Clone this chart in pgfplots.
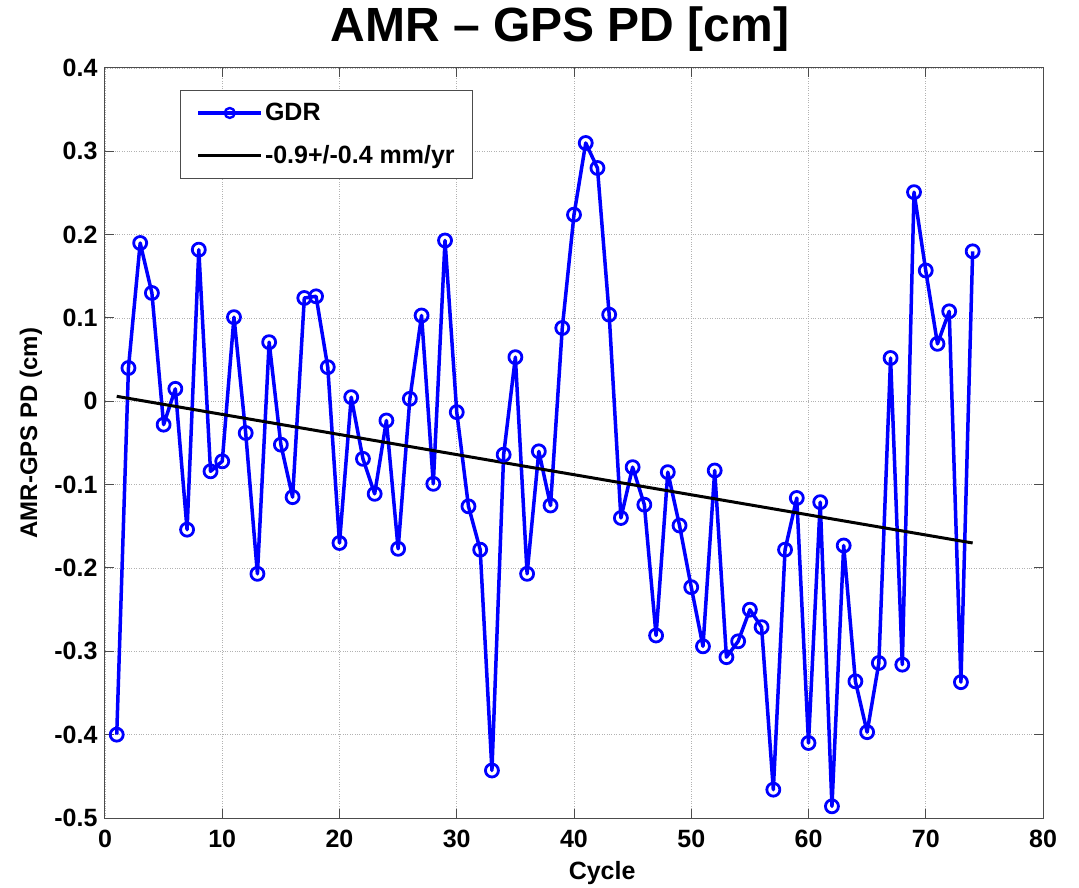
\documentclass[border=0pt]{standalone}
\usepackage{fontspec}
\setmainfont{Liberation Sans}
\usepackage{pgfplots}
\pgfplotsset{compat=1.18}
\begin{document}
\begin{tikzpicture}
\begin{axis}[
  scale only axis,
  width=938pt, height=750pt,
  xmin=0, xmax=80, ymin=-0.5, ymax=0.4,
  xtick={0,10,...,80},
  xticklabels={0,10,20,30,40,50,60,70,80},
  ytick={-0.5,-0.4,-0.3,-0.2,-0.1,0,0.1,0.2,0.3,0.4},
  yticklabels={-0.5,-0.4,-0.3,-0.2,-0.1,0,0.1,0.2,0.3,0.4},
  tick align=inside,
  major tick length=9pt,
  tick style={black!70, line width=1pt},
  axis line style={black!70, line width=1pt},
  grid=major,
  major grid style={black!30, dotted, line width=0.8pt},
  ticklabel style={font=\fontsize{25}{28}\selectfont\bfseries},
  xticklabel style={yshift=-9pt},
  yticklabel style={xshift=-4pt},
  xlabel={Cycle},
  ylabel={AMR-GPS PD (cm)},
  xlabel style={font=\fontsize{25}{28}\selectfont\bfseries, at={(axis description cs:0.53,-0.073)}, anchor=center},
  ylabel style={font=\fontsize{24}{28}\selectfont\bfseries, at={(axis description cs:-0.079,0.513)}, anchor=center},
  title={AMR – GPS PD [cm]},
  title style={font=\fontsize{48}{54}\selectfont\bfseries, at={(axis description cs:0.485,1.044)}, anchor=center},
  legend style={at={(75pt,728pt)}, anchor=north west, draw=black!70, line width=1pt,
    font=\fontsize{25}{28}\selectfont\bfseries, row sep=19pt, inner xsep=16pt, inner ysep=11pt,
    legend cell align=left},
  legend image code/.code={
    \draw[#1] (0pt,0pt) -- (63pt,0pt);
    \draw[#1, mark size=5pt, mark options={line width=2.4pt}, mark repeat=2, mark phase=2] plot coordinates {(0pt,0pt) (31.5pt,0pt) (63pt,0pt)};
  },
]
\addplot[color=blue, line width=3.5pt, line join=round, mark=o, mark size=6.5pt, mark options={line width=2.8pt, solid}] coordinates {
(1,-0.400) (2,0.040) (3,0.190) (4,0.130) (5,-0.028) (6,0.015) (7,-0.154) (8,0.182)
(9,-0.084) (10,-0.072) (11,0.101) (12,-0.038) (13,-0.207) (14,0.071) (15,-0.052) (16,-0.115)
(17,0.124) (18,0.126) (19,0.041) (20,-0.170) (21,0.005) (22,-0.069) (23,-0.111) (24,-0.023)
(25,-0.177) (26,0.003) (27,0.103) (28,-0.099) (29,0.193) (30,-0.013) (31,-0.126) (32,-0.178)
(33,-0.443) (34,-0.064) (35,0.053) (36,-0.207) (37,-0.060) (38,-0.125) (39,0.088) (40,0.224)
(41,0.310) (42,0.280) (43,0.104) (44,-0.140) (45,-0.079) (46,-0.124) (47,-0.281) (48,-0.085)
(49,-0.149) (50,-0.223) (51,-0.294) (52,-0.083) (53,-0.307) (54,-0.288) (55,-0.250) (56,-0.271)
(57,-0.466) (58,-0.178) (59,-0.116) (60,-0.410) (61,-0.121) (62,-0.486) (63,-0.173) (64,-0.336)
(65,-0.397) (66,-0.314) (67,0.052) (68,-0.316) (69,0.251) (70,0.157) (71,0.069) (72,0.108)
(73,-0.337) (74,0.180)
};
\addlegendentry{GDR}
\addplot[color=black, line width=3pt] coordinates {(1,0.006) (74,-0.170)};
\addlegendentry{-0.9+/-0.4 mm/yr}
\end{axis}
\path (current axis.south west) ++(-105pt,-69pt) coordinate (bbsw);
\path (current axis.north east) ++(36pt,68pt) coordinate (bbne);
\path (bbsw) rectangle (bbne);
\end{tikzpicture}
\end{document}
